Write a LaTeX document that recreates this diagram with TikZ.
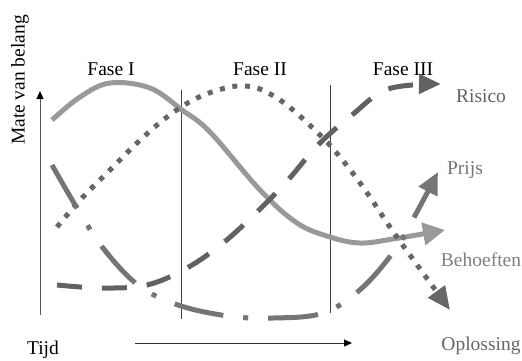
\documentclass[tikz,border=0pt]{standalone}
\usepackage{fontspec}
\setmainfont{Liberation Serif}
\usetikzlibrary{arrows.meta}
\definecolor{cBeh}{HTML}{999999}
\definecolor{cRis}{HTML}{626262}
\definecolor{cOpl}{HTML}{666666}
\definecolor{cPri}{HTML}{757575}
\definecolor{cAx}{HTML}{555555}
\tikzset{
  lbl/.style={inner sep=0pt, anchor=base, font=\fontsize{19.5}{22}\selectfont},
  curve/.style={line width=5pt, line cap=butt},
  axis/.style={line width=1pt, color=cAx},
  phaseline/.style={line width=1pt, color=black!75},
}
\begin{document}
\begin{tikzpicture}[x=1pt,y=-1pt]
\useasboundingbox (0,0) rectangle (522,360);
% axes
\coordinate (yb) at (40,315); \coordinate (yt) at (40,91);
\draw[axis, -{Triangle[length=8pt,width=7pt,black]}] (yb) -- (yt);
\coordinate (xb) at (135,343); \coordinate (xt) at (352,343);
\draw[axis, black!80, -{Triangle[length=8pt,width=7pt,black]}] (xb) -- (xt);
% phase lines
\coordinate (p1t) at (181,90); \coordinate (p1b) at (181,319);
\coordinate (p2t) at (330,85); \coordinate (p2b) at (330,313);
\draw[phaseline] (p1t) -- (p1b);
\draw[phaseline] (p2t) -- (p2b);
% Behoeften (solid light gray)
\draw[curve, cBeh, -{Triangle[length=22pt,width=22pt]}] plot[smooth, tension=0.6] coordinates {
 (52,120) (80,97) (110,83) (150,88) (182,110) (210,132) (260,190) (297,223) (330,237) (360,243) (393,239) (445,230)};
% Oplossing (dotted)
\draw[curve, cOpl, dash pattern=on 5pt off 7.7pt, -{Triangle[length=23pt,width=20pt]}] plot[smooth, tension=0.6] coordinates {
 (57,227) (82,198) (110,170) (137,143) (167,117) (197,98) (230,87) (253,87) (272,95) (293,110) (322,137) (340,157) (363,187) (392,230) (415,262) (450,310)};
% Prijs (dash-dot)
\draw[curve, cPri, dash pattern=on 50pt off 20pt on 5pt off 20pt, -{Triangle[length=22pt,width=20pt]}] plot[smooth, tension=0.6] coordinates {
 (52,165) (77,208) (103,248) (138,285) (178,305) (228,316) (273,318) (323,313) (362,288) (397,247) (418,210) (438,172)};
% Risico (dashed)
\draw[curve, cRis, dash pattern=on 25pt off 20pt, -{Triangle[length=22pt,width=19pt]}] plot[smooth, tension=0.6] coordinates {
 (57,285) (102,288) (147,285) (187,268) (223,243) (257,212) (288,180) (318,145) (352,115) (388,89) (441,84)};
% labels
\node[lbl] (f1) at (111,75) {Fase I};
\node[lbl] (f2) at (260,75) {Fase II};
\node[lbl] (f3) at (403,75) {Fase III};
\node[lbl, rotate=90, anchor=center] (mvb) at (20,80) {Mate van belang};
\node[lbl] (tijd) at (43,354) {Tijd};
\node[lbl, cRis] (ris) at (481,102) {Risico};
\node[lbl, cPri] (pri) at (465,174) {Prijs};
\node[lbl, color=black!50] (beh) at (481,266) {Behoeften};
\node[lbl, cOpl] (opl) at (481,350) {Oplossing};
\end{tikzpicture}
\end{document}
